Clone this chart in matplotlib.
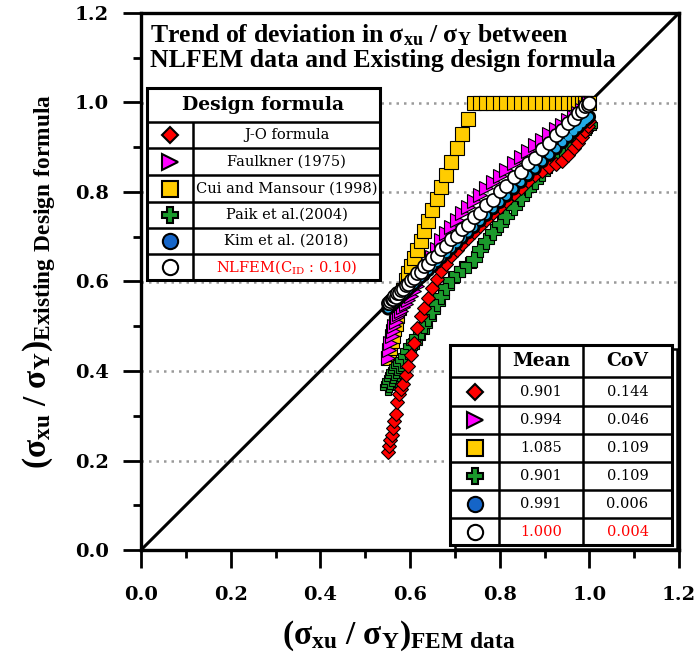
import matplotlib
matplotlib.use("Agg")
import matplotlib.pyplot as plt
import matplotlib.patheffects as pe
from matplotlib.patches import Rectangle
from matplotlib.ticker import MultipleLocator, FormatStrFormatter

plt.rcParams['mathtext.default'] = 'regular'

# ---------------- data ----------------
fem = [0.551, 0.553, 0.556, 0.559, 0.562, 0.565, 0.568, 0.572, 0.576, 0.580,
       0.585, 0.590, 0.596, 0.602, 0.609, 0.616, 0.624, 0.632, 0.641, 0.650,
       0.660, 0.670, 0.681, 0.692, 0.704, 0.716, 0.729, 0.742, 0.756, 0.770,
       0.785, 0.800, 0.815, 0.831, 0.847, 0.863, 0.879, 0.895, 0.911, 0.926,
       0.940, 0.953, 0.965, 0.975, 0.984, 0.991, 0.996, 1.000]

jo = [0.219, 0.232, 0.245, 0.258, 0.272, 0.288, 0.305, 0.330, 0.348, 0.360,
      0.372, 0.390, 0.412, 0.436, 0.462, 0.495, 0.522, 0.541, 0.564, 0.585,
      0.605, 0.624, 0.640, 0.656, 0.670, 0.683, 0.697, 0.710, 0.724, 0.738,
      0.752, 0.766, 0.780, 0.795, 0.810, 0.825, 0.838, 0.848, 0.856, 0.862,
      0.870, 0.882, 0.898, 0.910, 0.924, 0.937, 0.948, 0.958]

faulkner = [0.430, 0.446, 0.462, 0.478, 0.490, 0.500, 0.510, 0.521, 0.528, 0.535,
            0.543, 0.550, 0.558, 0.567, 0.578, 0.590, 0.605, 0.620, 0.637, 0.655,
            0.672, 0.692, 0.708, 0.722, 0.738, 0.752, 0.766, 0.780, 0.794, 0.808,
            0.822, 0.836, 0.850, 0.864, 0.878, 0.892, 0.905, 0.917, 0.929, 0.940,
            0.950, 0.960, 0.968, 0.976, 0.984, 0.990, 0.995, 0.998]

cui = [0.430, 0.439, 0.452, 0.466, 0.479, 0.493, 0.506, 0.524, 0.541, 0.559,
       0.582, 0.603, 0.618, 0.634, 0.652, 0.670, 0.691, 0.712, 0.735, 0.759,
       0.785, 0.811, 0.839, 0.868, 0.899, 0.930, 0.964, 0.998, 1.000, 1.000,
       1.000, 1.000, 1.000, 1.000, 1.000, 1.000, 1.000, 1.000, 1.000, 1.000,
       1.000, 1.000, 1.000, 1.000, 1.000, 1.000, 1.000, 1.000]

paik = [0.364, 0.370, 0.378, 0.385, 0.391, 0.397, 0.403, 0.408, 0.413, 0.418,
        0.425, 0.434, 0.444, 0.455, 0.465, 0.477, 0.490, 0.503, 0.519, 0.534,
        0.551, 0.568, 0.587, 0.604, 0.616, 0.627, 0.636, 0.650, 0.672, 0.690,
        0.710, 0.728, 0.746, 0.766, 0.786, 0.806, 0.825, 0.843, 0.860, 0.878,
        0.893, 0.906, 0.918, 0.928, 0.936, 0.942, 0.946, 0.950]

kim = [0.539, 0.541, 0.544, 0.547, 0.549, 0.552, 0.555, 0.559, 0.563, 0.567,
       0.571, 0.576, 0.582, 0.588, 0.594, 0.601, 0.609, 0.616, 0.625, 0.634,
       0.643, 0.653, 0.663, 0.674, 0.685, 0.697, 0.709, 0.721, 0.735, 0.748,
       0.763, 0.777, 0.791, 0.807, 0.822, 0.837, 0.852, 0.868, 0.883, 0.897,
       0.911, 0.923, 0.935, 0.944, 0.953, 0.960, 0.964, 0.968]

nlfem = [0.553, 0.551, 0.557, 0.560, 0.561, 0.567, 0.566, 0.574, 0.575, 0.582,
         0.584, 0.592, 0.595, 0.604, 0.608, 0.618, 0.622, 0.634, 0.639, 0.652,
         0.658, 0.672, 0.679, 0.694, 0.702, 0.718, 0.727, 0.744, 0.754, 0.772,
         0.783, 0.802, 0.813, 0.833, 0.845, 0.865, 0.877, 0.897, 0.909, 0.928,
         0.938, 0.955, 0.963, 0.977, 0.982, 0.993, 0.994, 1.000]

legend_labels = ["J-O formula", "Faulkner (1975)", "Cui and Mansour (1998)",
                 "Paik et al.(2004)", "Kim et al. (2018)", "NLFEM(C$_{ID}$ : 0.10)"]
means = ["0.901", "0.994", "1.085", "0.901", "0.991", "1.000"]
covs = ["0.144", "0.046", "0.109", "0.109", "0.006", "0.004"]

# marker styles for the tables (marker, face colour, size)
styles = [("D", "#FF0000", 8.5),
          (">", "#FF00FF", 11),
          ("s", "#FFCC00", 11),
          ("P", "#1B9A2C", 12),
          ("o", "#1565C8", 11),
          ("o", "#FFFFFF", 11)]
kim_band = "#22AAE6"

# ---------------- figure ----------------
fig = plt.figure(figsize=(6.96, 6.61), dpi=100)
W, H = 696, 661
L, R, T, B = 141, 679, 13, 550
ax = fig.add_axes([L / W, (H - B) / H, (R - L) / W, (B - T) / H])
ax.set_xlim(0, 1.2)
ax.set_ylim(0, 1.2)

# grid lines
for g in [0.2, 0.4, 0.6, 0.8, 1.0]:
    ax.axhline(g, color="#9a9a9a", lw=1.8, ls=(0, (1, 2.0)), zorder=1)

# 1:1 line
ax.plot([0, 1.2], [0, 1.2], color="black", lw=2.2, zorder=2)

# series (bottom to top)
ax.plot(fem, cui, ls="none", marker="s", ms=10, mfc="#FFCC00", mec="black", mew=0.8, zorder=3)
ax.plot(fem, faulkner, ls="none", marker=">", ms=10, mfc="#FF00FF", mec="black", mew=0.8, zorder=4)
ax.plot(fem, paik, ls="none", marker="P", ms=11, mfc="#1B9A2C", mec="black", mew=0.8, zorder=5)
ax.plot(fem, jo, ls="none", marker="D", ms=6.8, mfc="#FF0000", mec="black", mew=0.8, zorder=6)
ax.plot(fem, kim, ls="-", color=kim_band, lw=3.2, marker="o", ms=4.5, mfc=kim_band, mec=kim_band,
        zorder=7, path_effects=[pe.Stroke(linewidth=5.2, foreground="black"), pe.Normal()])
ax.plot(fem, nlfem, ls="none", marker="o", ms=9.5, mfc="white", mec="black", mew=1.2, zorder=8)

# axes styling
for s in ax.spines.values():
    s.set_linewidth(2.4)
ax.xaxis.set_major_locator(MultipleLocator(0.2))
ax.xaxis.set_minor_locator(MultipleLocator(0.1))
ax.yaxis.set_major_locator(MultipleLocator(0.2))
ax.yaxis.set_minor_locator(MultipleLocator(0.1))
ax.xaxis.set_major_formatter(FormatStrFormatter("%.1f"))
ax.yaxis.set_major_formatter(FormatStrFormatter("%.1f"))
ax.tick_params(which="major", direction="out", length=13, width=2, labelsize=14)
ax.tick_params(axis="x", which="major", pad=13)
ax.tick_params(axis="y", which="major", pad=10)
ax.tick_params(which="minor", direction="out", length=6, width=2)
for lab in ax.get_xticklabels() + ax.get_yticklabels():
    lab.set_fontfamily("DejaVu Serif")
    lab.set_fontweight("bold")

ax.set_xlabel("(σ$_{xu}$ / σ$_{Y}$)$_{FEM\\ data}$", fontfamily="Liberation Serif",
              fontweight="bold", fontsize=24)
ax.xaxis.set_label_coords(0.48, -0.127)
ax.set_ylabel("(σ$_{xu}$ / σ$_{Y}$)$_{Existing\\ Design\\ formula}$", fontfamily="Liberation Serif",
              fontweight="bold", fontsize=24)
ax.yaxis.set_label_coords(-0.155, 0.5)


def fx(px):
    return (px - L) / (R - L)


def fy(py):
    return (B - py) / (B - T)


# title text inside axes
ax.text(fx(150), fy(35), "Trend of deviation in σ$_{xu}$ / σ$_{Y}$ between",
        transform=ax.transAxes, ha="left", va="center", fontfamily="Liberation Serif",
        fontweight="bold", fontsize=18.5, zorder=10)
ax.text(fx(150), fy(60), "NLFEM data and Existing design formula",
        transform=ax.transAxes, ha="left", va="center", fontfamily="Liberation Serif",
        fontweight="bold", fontsize=18.5, zorder=10)


def rect(x0, y0, x1, y1, lw=2.0, z=20):
    ax.add_patch(Rectangle((fx(x0), fy(y1)), fx(x1) - fx(x0), fy(y0) - fy(y1),
                           transform=ax.transAxes, facecolor="white", edgecolor="black",
                           lw=lw, zorder=z, clip_on=False))


def hline(x0, x1, y, lw=1.8, z=21):
    ax.plot([fx(x0), fx(x1)], [fy(y), fy(y)], transform=ax.transAxes, color="black",
            lw=lw, zorder=z, clip_on=False, solid_capstyle="butt")


def vline(x, y0, y1, lw=1.8, z=21):
    ax.plot([fx(x), fx(x)], [fy(y0), fy(y1)], transform=ax.transAxes, color="black",
            lw=lw, zorder=z, clip_on=False, solid_capstyle="butt")


# ---------------- left legend table ----------------
lx0, lx1, lx2 = 147, 193, 380
ly = [88, 122, 148, 175, 202, 228, 254, 280]
rect(lx0, ly[0], lx2, ly[-1], lw=2.2)
for yy in ly[1:-1]:
    hline(lx0, lx2, yy)
vline(lx1, ly[1], ly[-1])
ax.text(fx((lx0 + lx2) / 2), fy((ly[0] + ly[1]) / 2), "Design formula", transform=ax.transAxes,
        ha="center", va="center", fontfamily="DejaVu Serif", fontweight="bold",
        fontsize=13.5, zorder=22)
for i, lab in enumerate(legend_labels):
    yc = fy((ly[i + 1] + ly[i + 2]) / 2)
    m, c, ts = styles[i]
    ax.plot([fx(170)], [yc], transform=ax.transAxes, marker=m, ms=ts,
            mfc=c, mec="black", mew=1.5, ls="none", zorder=23, clip_on=False)
    ax.text(fx((lx1 + lx2) / 2), yc, lab, transform=ax.transAxes, ha="center", va="center",
            fontfamily="DejaVu Serif", fontsize=10.5, zorder=23,
            color="red" if i == 5 else "black")

# ---------------- right stats table ----------------
rx = [450, 499, 583, 672]
ry = [345, 377, 406, 434, 462, 490, 518, 545]
rect(rx[0] + 5, ry[0] + 4, rx[-1] + 5, ry[-1] + 4, lw=1.8, z=19)
rect(rx[0], ry[0], rx[-1], ry[-1], lw=2.2)
for yy in ry[1:-1]:
    hline(rx[0], rx[-1], yy)
for xx in rx[1:-1]:
    vline(xx, ry[0], ry[-1])
ax.text(fx((rx[1] + rx[2]) / 2), fy((ry[0] + ry[1]) / 2), "Mean", transform=ax.transAxes,
        ha="center", va="center", fontfamily="DejaVu Serif", fontweight="bold",
        fontsize=13.5, zorder=22)
ax.text(fx((rx[2] + rx[3]) / 2), fy((ry[0] + ry[1]) / 2), "CoV", transform=ax.transAxes,
        ha="center", va="center", fontfamily="DejaVu Serif", fontweight="bold",
        fontsize=13.5, zorder=22)
for i in range(6):
    yc = fy((ry[i + 1] + ry[i + 2]) / 2)
    m, c, ts = styles[i]
    ax.plot([fx((rx[0] + rx[1]) / 2)], [yc], transform=ax.transAxes, marker=m,
            ms=ts, mfc=c, mec="black", mew=1.5, ls="none", zorder=23, clip_on=False)
    col = "red" if i == 5 else "black"
    ax.text(fx((rx[1] + rx[2]) / 2), yc, means[i], transform=ax.transAxes, ha="center",
            va="center", fontfamily="DejaVu Serif", fontsize=10.5, color=col, zorder=23)
    ax.text(fx((rx[2] + rx[3]) / 2), yc, covs[i], transform=ax.transAxes, ha="center",
            va="center", fontfamily="DejaVu Serif", fontsize=10.5, color=col, zorder=23)

fig.savefig("out.png", dpi=100)
